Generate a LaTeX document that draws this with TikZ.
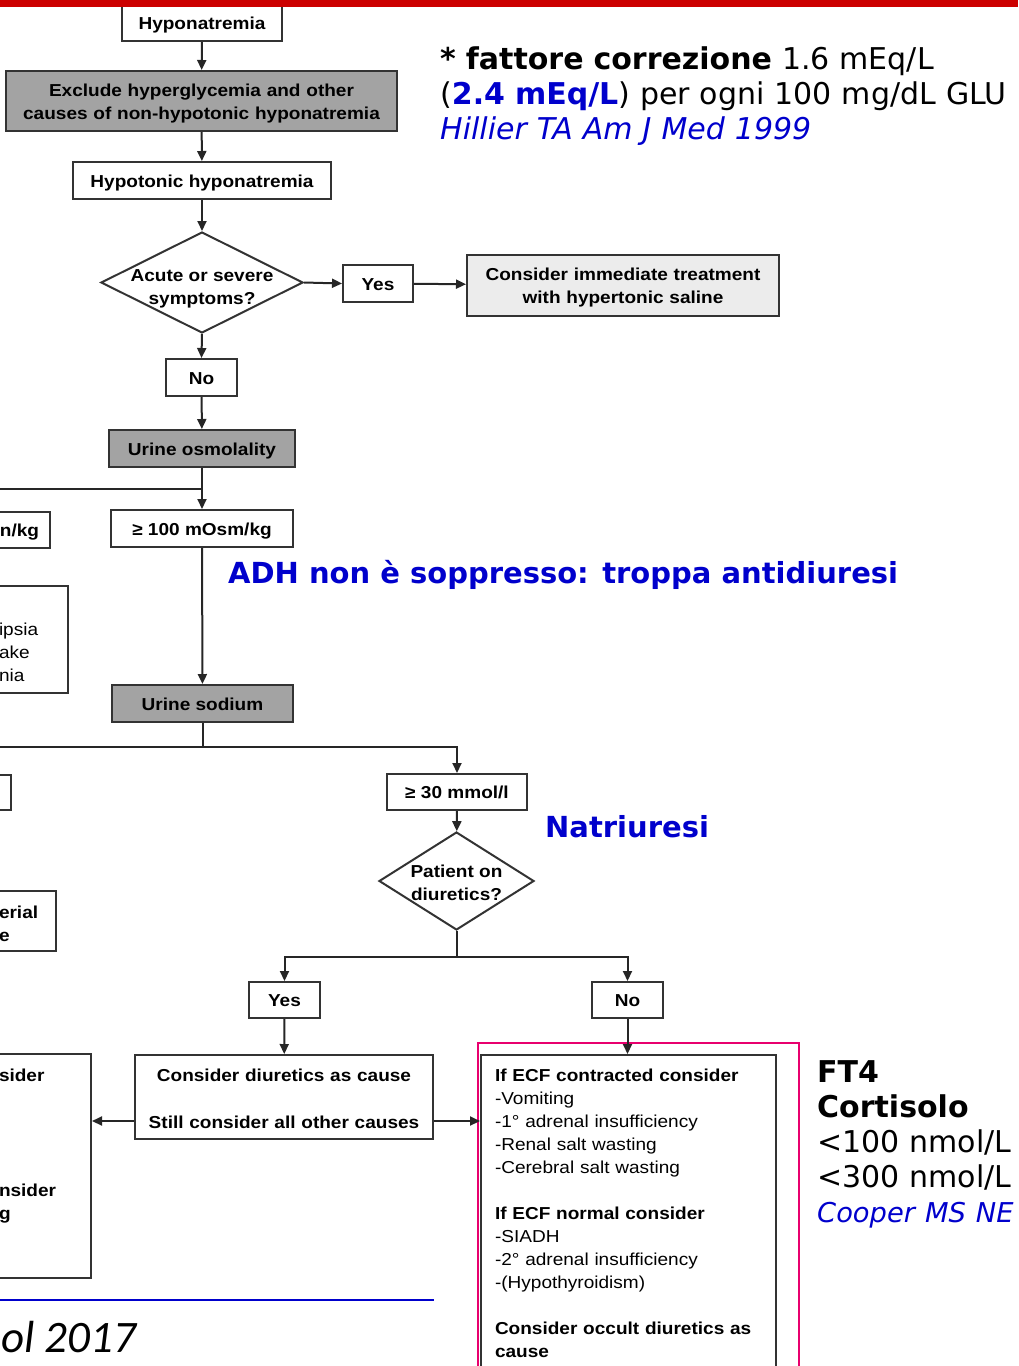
\documentclass[tikz,border=0pt]{standalone}
\usepackage{fontspec}
\setmainfont{Liberation Sans}
\newfontfamily\boxfam[FakeStretch=1.1]{Liberation Sans}
\newfontfamily\slidefam{DejaVu Sans}
\newfontfamily\calfam{Carlito}
\usepackage{xcolor}
\usetikzlibrary{arrows.meta,positioning,shapes.geometric,calc}
\definecolor{slideblue}{RGB}{0,0,204}
\definecolor{barred}{RGB}{204,0,0}
\definecolor{pinkline}{RGB}{232,0,110}
\definecolor{boxgray}{RGB}{163,163,163}
\definecolor{boxlight}{RGB}{236,236,236}
\newcommand{\boxfont}{\boxfam\fontsize{17.3}{23}\selectfont}
\newcommand{\slidefont}{\slidefam\fontsize{30}{35}\selectfont}
\tikzset{
  >={Triangle[length=10pt,width=9pt]},
  box/.style={draw=black!80, line width=2pt, fill=white, align=center, font=\boxfont\bfseries, inner sep=0pt},
  onebox/.style={box, text height=16pt, text depth=3pt},
  dkbox/.style={box, fill=boxgray},
  ltbox/.style={box, fill=boxlight},
  partbox/.style={box, align=left, inner ysep=0pt, inner xsep=11pt},
  dec/.style={draw=black!80, line width=2pt, fill=white, diamond, inner sep=0pt},
  qlbl/.style={align=center, font=\boxfont\bfseries, inner sep=0pt},
  link/.style={line width=2pt, draw=black!85},
  note/.style={align=left, font=\slidefont, inner sep=0pt, anchor=base west},
  hilite/.style={draw=pinkline, line width=2.4pt},
}
\begin{document}
\begin{tikzpicture}[x=1pt, y=-1pt]
  \useasboundingbox (0,0) rectangle (1018,1366);
  \node[onebox, minimum width=160pt, minimum height=36pt] (hypo) at (202,23) {Hyponatremia};
  \node[dkbox, anchor=north, text width=391pt, text height=25pt, text depth=35pt] (excl) at (201.5,70) {Exclude hyperglycemia and other\\causes of non-hypotonic hyponatremia};
  \node[onebox, minimum width=258pt, minimum height=37pt] (hypoton) at (202,180.5) {Hypotonic hyponatremia};
  \node[dec, minimum width=202pt, minimum height=101pt, label={[qlbl,yshift=-6pt]center:Acute or severe\\symptoms?}] (acute) at (202,282.5) {};
  \node[onebox, minimum width=70pt, minimum height=37pt] (yes1) at (378,283.5) {Yes};
  \node[ltbox, anchor=north, text width=312pt, text height=25pt, text depth=36pt] (treat) at (623,254) {Consider immediate treatment\\with hypertonic saline};
  \node[onebox, minimum width=71pt, minimum height=37pt] (no1) at (201.5,377.5) {No};
  \node[onebox, dkbox, minimum width=186pt, minimum height=37pt] (uosm) at (202,448.5) {Urine osmolality};
  \node[onebox, minimum width=182pt, minimum height=37pt] (ge100) at (202,528.5) {≥ 100 mOsm/kg};
  \node[onebox, anchor=east, minimum height=36pt, text width=50pt, inner xsep=11pt, align=right] (lt100) at (51,530) {n/kg};
  \node[partbox, anchor=north east, text width=58pt, text height=49pt, text depth=58pt, font=\boxfont] (water) at (69,585) {ipsia\\ake\\nia};
  \node[onebox, dkbox, minimum width=181pt, minimum height=37pt] (usod) at (202.5,703.5) {Urine sodium};
  \node[box, anchor=east, minimum width=60pt, minimum height=35pt] (lt30) at (12,792.5) {};
  \node[onebox, minimum width=140pt, minimum height=36pt] (ge30) at (457,792) {≥ 30 mmol/l};
  \node[dec, minimum width=155pt, minimum height=98pt, label={[qlbl,yshift=-2pt]center:Patient on\\diuretics?}] (diur) at (456.5,881) {};
  \node[partbox, anchor=north east, text width=46pt, text height=27pt, text depth=33pt] (hypov) at (57,890) {erial\\e};
  \node[onebox, minimum width=71pt, minimum height=36pt] (yes2) at (284.5,1000) {Yes};
  \node[onebox, minimum width=71pt, minimum height=36pt] (no2) at (627.5,1000) {No};
  \node[box, anchor=north, text width=298pt, text height=26pt, text depth=58pt] (diurcause) at (284,1054) {Consider diuretics as cause\\[24pt]Still consider all other causes};
  \node[partbox, anchor=north east, text width=81pt, text height=27pt, text depth=197pt] (other) at (92,1053) {sider\\[92pt]nsider\\g};
  \node[box, anchor=north west, align=left, font=\boxfont, text width=267pt, inner xsep=14pt, inner ysep=0pt, text height=26pt, text depth=330pt] (causes) at (480,1054)
    {\textbf{If ECF contracted consider}\\
     -Vomiting\\
     -1° adrenal insufficiency\\
     -Renal salt wasting\\
     -Cerebral salt wasting\\[23pt]
     \textbf{If ECF normal consider}\\
     -SIADH\\
     -2° adrenal insufficiency\\
     -(Hypothyroidism)\\[23pt]
     \textbf{Consider occult diuretics as}\\
     \textbf{cause}};
  \draw[hilite] ([xshift=-2pt,yshift=11pt]causes.north west) rectangle ([xshift=22pt]causes.south east);
  \coordinate (osmleft) at (-5,489);
  \coordinate (naleft) at (-5,747);
  \draw[link,->] (hypo) -- (excl);
  \draw[link,->] (excl) -- (hypoton);
  \draw[link,->] (hypoton) -- (acute);
  \draw[link,->] (acute.east) -- (yes1.west);
  \draw[link,->] (yes1) -- (treat);
  \draw[link,->] (acute.south) -- (no1.north);
  \draw[link,->] (no1) -- (uosm);
  \draw[link] (uosm.south) |- (osmleft);
  \draw[link,->] (uosm) -- (ge100);
  \draw[link,->] (ge100) -- (usod);
  \draw[link] (usod.south) |- (naleft);
  \draw[link,->] (naleft) -| (ge30.north);
  \draw[link,->] (ge30) -- (diur);
  \draw[link,->] (diur.south) -- ++(0,26) -| (yes2.north);
  \draw[link,->] (diur.south) -- ++(0,26) -| (no2.north);
  \draw[link,->] (yes2) -- (diurcause);
  \draw[link,->] (no2) -- (causes.north -| no2);
  \draw[link,->] ([yshift=-24pt]diurcause.west) -- ([yshift=-24pt]diurcause.west -| other.east);
  \draw[link,->] ([yshift=-24pt]diurcause.east) -- ([yshift=-24pt]diurcause.east -| causes.west);
  \node[note, text width=600pt] (corr) at (440,69) {\textbf{* fattore correzione} 1.6 mEq/L\\(\textcolor{slideblue}{\textbf{2.4 mEq/L}}) per ogni 100 mg/dL GLU\\\textcolor{slideblue}{\itshape Hillier TA Am J Med 1999}};
  \node[note, font=\slidefam\bfseries\fontsize{29}{35}\selectfont, text=slideblue] (adh) at (228,583) {ADH non è soppresso: troppa antidiuresi};
  \node[note, font=\slidefam\bfseries\fontsize{29}{35}\selectfont, text=slideblue] (natri) at (545,837) {Natriuresi};
  \node[note, text width=220pt] (ft4) at (817,1082) {\textbf{FT4}\\\textbf{Cortisolo}\\<100 nmol/L\\<300 nmol/L\\\textcolor{slideblue}{\itshape\fontsize{27.3}{35}\selectfont Cooper MS NE}};
  \draw[slideblue, line width=1.2pt] (0,1300) -- (434,1300);
  \node[note, font=\calfam\itshape\fontsize{45}{50}\selectfont] (cite) at (1,1352) {ol 2017};
  \fill[barred] (0,0) rectangle (1018,7);
\end{tikzpicture}
\end{document}
